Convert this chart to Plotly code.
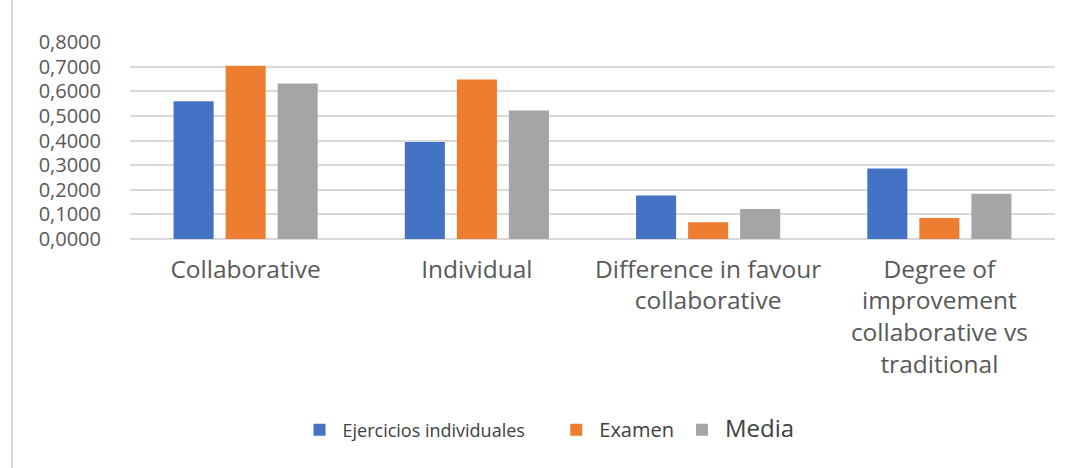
import plotly.graph_objects as go

categories = ["Collaborative", "Individual", "Difference in favour<br>collaborative",
              "Degree of<br>improvement<br>collaborative vs<br>traditional"]
ejercicios = [0.559, 0.394, 0.177, 0.286]
examen = [0.704, 0.648, 0.068, 0.085]
media = [0.631, 0.522, 0.122, 0.184]
y_ticks = [0, 0.1, 0.2, 0.3, 0.4, 0.5, 0.6, 0.7, 0.8]

series = [
    ("<span style='font-size:18px'>Ejercicios individuales</span>" + "\u00a0" * 5, ejercicios, "#4472C4"),
    ("<span style='font-size:20px'>Examen</span>", examen, "#ED7D31"),
    ("<span style='font-size:24px'>Media</span>", media, "#A5A5A5"),
]

fig = go.Figure()
for name, vals, color in series:
    fig.add_trace(go.Bar(x=categories, y=vals, name=name, marker=dict(color=color, line=dict(width=0))))

W, H = 1075, 468
ml, mr, mt, mb = 130, 20, 42, 229

fig.update_layout(
    width=W, height=H,
    margin=dict(l=ml, r=mr, t=mt, b=mb, pad=0),
    paper_bgcolor="white", plot_bgcolor="white",
    separators=",.",
    barmode="group", bargap=0.325, bargroupgap=0.23,
    font=dict(family="Open Sans", color="#595959"),
    showlegend=True,
    legend=dict(orientation="h", x=0.18, xanchor="left", y=-0.97, yanchor="middle",
                font=dict(size=18, color="#404040"), itemwidth=36, traceorder="normal"),
    xaxis=dict(tickfont=dict(size=24.5, color="#595959"), showgrid=False, showline=False,
               ticks="", ticklabelstandoff=13, fixedrange=True),
    yaxis=dict(range=[0, 0.8], tickvals=y_ticks, tickformat=".4f",
               tickfont=dict(size=20, color="#595959"), showgrid=True, gridcolor="#D9D9D9",
               gridwidth=2, zeroline=True, zerolinecolor="#D9D9D9", zerolinewidth=2,
               showline=False, ticks="", ticklabelstandoff=28),
)

# Left border of chart area
plot_h = H - mt - mb
x_border = (12 - ml) / (W - ml - mr)
fig.add_shape(type="line", xref="paper", yref="paper", x0=x_border, x1=x_border,
              y0=-(mb) / plot_h, y1=1 + mt / plot_h,
              line=dict(color="#D9D9D9", width=2))

fig.write_html("out.html")
